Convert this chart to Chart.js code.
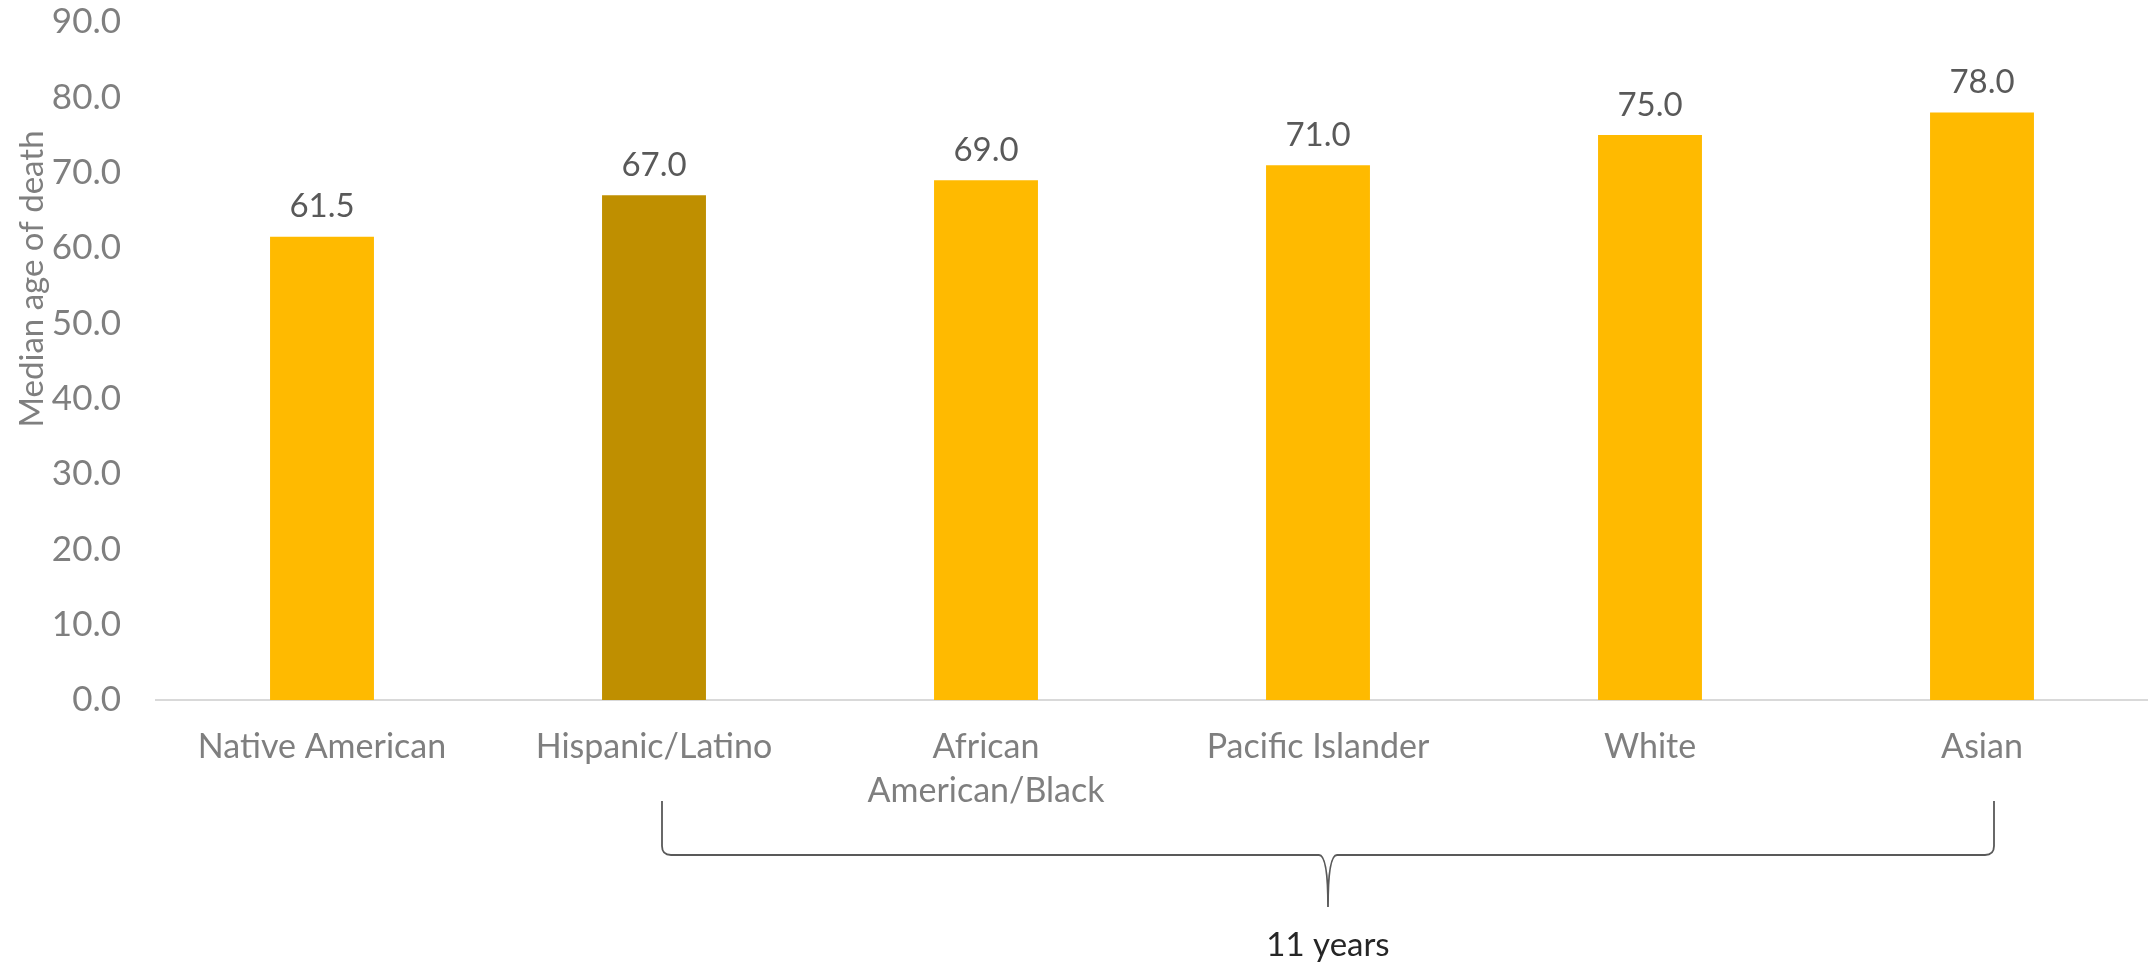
<!DOCTYPE html>
<html>
<head>
<meta charset="utf-8">
<script src="https://cdn.jsdelivr.net/npm/chart.js@4.4.0/dist/chart.umd.min.js"></script>
<style>
	html, body { margin:0; padding:0; background:#fff; }
	#wrap { width:2148px; height:964px; position:relative; }
</style>
</head>
<body>
<div id="wrap"><canvas id="barChart"></canvas></div>
<script>
var categories = ["Native American", "Hispanic/Latino", ["African", "American/Black"], "Pacific Islander", "White", "Asian"];
var medianAge = [61.5, 67.0, 69.0, 71.0, 75.0, 78.0];
var barColors = ["#FFBA00", "#BF8F00", "#FFBA00", "#FFBA00", "#FFBA00", "#FFBA00"];
var yTicks = [0, 10, 20, 30, 40, 50, 60, 70, 80, 90];
var braceText = "11 years";
var yTitle = "Median age of death";

var fontName = "Lato";

// value labels above bars, axis title and the brace underneath
var extras = {
	id: 'extras',
	afterDatasetsDraw: function(chart){
		var ctx = chart.ctx;
		var meta = chart.getDatasetMeta(0);
		ctx.save();
		ctx.font = "33px " + fontName;
		ctx.fillStyle = "#595959";
		ctx.textAlign = "center";
		ctx.textBaseline = "middle";
		for(var i=0;i<meta.data.length;i++){
			var bar = meta.data[i];
			ctx.fillText(medianAge[i].toFixed(1), bar.x, bar.y - 30);
		}
		ctx.restore();
	},
	afterDraw: function(chart){
		var ctx = chart.ctx;
		var x = chart.scales.x;

		ctx.save();
		ctx.translate(32, 279);
		ctx.rotate(-Math.PI/2);
		ctx.font = "33px " + fontName;
		ctx.fillStyle = "#7F7F7F";
		ctx.textAlign = "center";
		ctx.textBaseline = "middle";
		ctx.fillText(yTitle, 0, 0);
		ctx.restore();

		var left = x.getPixelForValue(1) + 8;
		var right = x.getPixelForValue(5) + 12;
		var mid = (left + right) / 2;
		var top = 801, line = 855, tip = 907, r = 9;
		ctx.save();
		ctx.strokeStyle = "#595959";
		ctx.lineWidth = 1.8;
		ctx.beginPath();
		ctx.moveTo(left, top);
		ctx.lineTo(left, line - r);
		ctx.quadraticCurveTo(left, line, left + r, line);
		ctx.lineTo(mid - r, line);
		ctx.quadraticCurveTo(mid, line, mid, tip);
		ctx.quadraticCurveTo(mid, line, mid + r, line);
		ctx.lineTo(right - r, line);
		ctx.quadraticCurveTo(right, line, right, line - r);
		ctx.lineTo(right, top);
		ctx.stroke();

		ctx.font = "33px " + fontName;
		ctx.fillStyle = "#262626";
		ctx.textAlign = "center";
		ctx.textBaseline = "middle";
		ctx.fillText(braceText, mid, 945);
		ctx.restore();
	}
};

var ctx = document.getElementById("barChart");
var myChart = new Chart(ctx, {
	type: 'bar',
	data: {
		labels: categories,
		datasets: [
		{
			data: medianAge,
			backgroundColor: barColors,
			borderWidth: 0,
			categoryPercentage: 1,
			barPercentage: 0.313
		}
		]
	},
	options: {
		responsive: true,
		maintainAspectRatio: false,
		animation: false,
		layout: { padding: { top: 22, right: 0, left: 0, bottom: 0 } },
		plugins: {
			legend: { display: false },
			tooltip: { enabled: false }
		},
		scales: {
			x: {
				grid: { display: false, drawTicks: false },
				border: { display: true, color: "#D9D9D9", width: 2 },
				ticks: {
					color: "#7F7F7F",
					font: { family: fontName, size: 34, lineHeight: 1.3 },
					padding: 25,
					maxRotation: 0,
					autoSkip: false
				},
				afterFit: function(scale){ scale.height = 264; }
			},
			y: {
				min: 0,
				max: 90,
				grid: { display: false, drawTicks: false },
				border: { display: false },
				afterBuildTicks: function(scale){
					scale.ticks = yTicks.map(function(v){ return { value: v }; });
				},
				ticks: {
					color: "#7F7F7F",
					font: { family: fontName, size: 35 },
					padding: 35,
					callback: function(v){ return v.toFixed(1); }
				},
				afterFit: function(scale){
					scale.width = 156;
					scale.paddingTop = 0;
					scale.paddingBottom = 0;
				}
			}
		}
	},
	plugins: [extras]
});
</script>
</body>
</html>
